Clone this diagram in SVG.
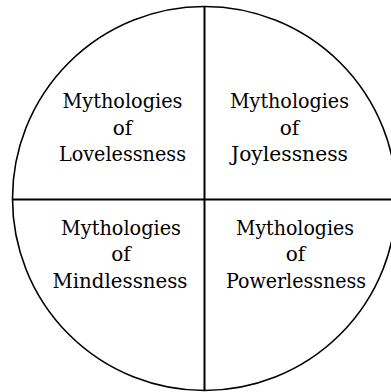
<svg xmlns="http://www.w3.org/2000/svg" width="391" height="392" viewBox="0 0 391 392">
  <style>
    .ln { stroke: #000; fill: none; }
    .lbl { font-family: "DejaVu Serif", "Liberation Serif", serif; font-size: 20px; fill: #000; text-anchor: middle; }
  </style>
  <rect x="0" y="0" width="391" height="392" fill="#fff"/>
  <g id="frame">
    <circle class="ln" cx="204.5" cy="198.5" r="192" stroke-width="1.6"/>
    <line class="ln" x1="204.5" y1="6.5" x2="204.5" y2="390.5" stroke-width="2"/>
    <line class="ln" x1="12.5" y1="199.5" x2="396" y2="199.5" stroke-width="2"/>
  </g>
  <g id="loveless">
    <text class="lbl" x="122.5" y="108" textLength="120" lengthAdjust="spacingAndGlyphs">Mythologies</text>
    <text class="lbl" x="122.5" y="135">of</text>
    <text class="lbl" x="122.5" y="161" textLength="127" lengthAdjust="spacingAndGlyphs">Lovelessness</text>
  </g>
  <g id="joyless">
    <text class="lbl" x="289.5" y="108" textLength="119" lengthAdjust="spacingAndGlyphs">Mythologies</text>
    <text class="lbl" x="289.5" y="135">of</text>
    <text class="lbl" x="289.5" y="161" textLength="117" lengthAdjust="spacingAndGlyphs">Joylessness</text>
  </g>
  <g id="mindless">
    <text class="lbl" x="121" y="235" textLength="120" lengthAdjust="spacingAndGlyphs">Mythologies</text>
    <text class="lbl" x="121" y="261">of</text>
    <text class="lbl" x="120" y="288" textLength="135" lengthAdjust="spacingAndGlyphs">Mindlessness</text>
  </g>
  <g id="powerless">
    <text class="lbl" x="295" y="235" textLength="118" lengthAdjust="spacingAndGlyphs">Mythologies</text>
    <text class="lbl" x="295.5" y="261">of</text>
    <text class="lbl" x="296" y="288" textLength="140" lengthAdjust="spacingAndGlyphs">Powerlessness</text>
  </g>
</svg>
